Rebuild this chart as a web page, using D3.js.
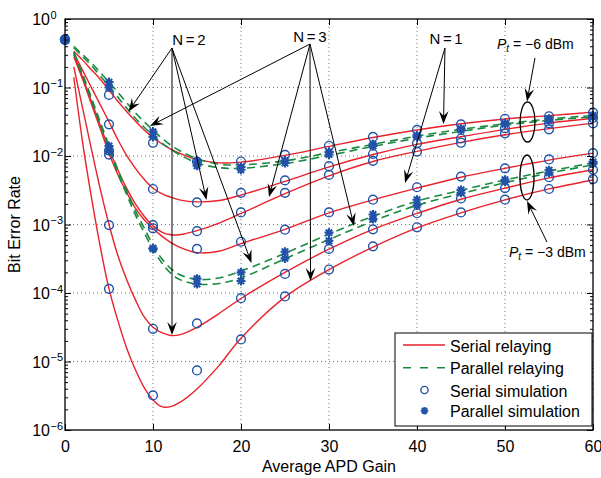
<!DOCTYPE html>
<html>
<head>
<meta charset="utf-8">
<script src="https://cdn.jsdelivr.net/npm/d3@7"></script>
<style>
  html, body { margin: 0; padding: 0; background: #fff; }
  svg { display: block; font-family: "Liberation Sans", Arial, Helvetica, sans-serif; }
</style>
</head>
<body>
<svg id="chart" width="601" height="478"></svg>
<script>
// ---- analytical curves (BER vs average APD gain) ----
const gainTheory = [1, 2, 3, 4, 5, 6, 7, 8, 9, 10, 11, 12, 13, 15, 17.5, 20, 25, 30, 35, 40, 45, 50, 55, 60];

// serial relaying, Pt = -6 dBm
const serialM6N1 = [0.339, 0.251, 0.182, 0.132, 0.0912, 0.0631, 0.0447, 0.0324, 0.0240, 0.0186, 0.0151, 0.0126, 0.0110, 0.00891, 0.00794, 0.00813, 0.0102, 0.0138, 0.0186, 0.0240, 0.0295, 0.0347, 0.0389, 0.0437];
const serialM6N2 = [0.316, 0.178, 0.100, 0.0562, 0.0316, 0.0174, 0.0102, 0.00661, 0.00457, 0.00339, 0.00282, 0.00251, 0.00229, 0.00214, 0.00224, 0.00269, 0.00427, 0.00692, 0.0105, 0.0148, 0.0191, 0.0245, 0.0302, 0.0355];
const serialM6N3 = [0.302, 0.141, 0.0631, 0.0282, 0.0126, 0.00631, 0.00339, 0.00200, 0.00132, 0.000955, 0.000776, 0.000708, 0.000708, 0.000813, 0.00105, 0.00145, 0.00282, 0.00513, 0.00832, 0.0117, 0.0158, 0.0204, 0.0251, 0.0302];
// serial relaying, Pt = -3 dBm
const serialM3N1 = [0.282, 0.132, 0.0575, 0.0251, 0.0110, 0.00537, 0.00295, 0.00174, 0.00117, 0.000871, 0.000676, 0.000550, 0.000468, 0.000389, 0.000407, 0.000525, 0.000851, 0.00148, 0.00229, 0.00339, 0.00490, 0.00660, 0.00870, 0.0110];
const serialM3N2 = [0.200, 0.0501, 0.0126, 0.00331, 0.00100, 0.000355, 0.000158, 7.94e-5, 4.47e-5, 3.16e-5, 2.63e-5, 2.40e-5, 2.45e-5, 3.16e-5, 5.01e-5, 8.32e-5, 2.00e-4, 4.37e-4, 8.51e-4, 0.00145, 0.00234, 0.00339, 0.00479, 0.00631];
const serialM3N3 = [0.141, 0.0158, 0.00251, 0.000479, 0.000115, 3.98e-5, 1.58e-5, 7.59e-6, 4.17e-6, 2.75e-6, 2.19e-6, 2.19e-6, 2.51e-6, 3.98e-6, 8.71e-6, 2.19e-5, 8.71e-5, 2.19e-4, 4.68e-4, 8.91e-4, 0.00148, 0.00229, 0.00331, 0.00447];
// parallel relaying
const parallelM6N2 = [0.398, 0.302, 0.229, 0.166, 0.120, 0.0851, 0.0603, 0.0427, 0.0316, 0.0240, 0.0182, 0.0145, 0.0120, 0.00912, 0.00759, 0.00741, 0.00851, 0.0112, 0.0148, 0.0195, 0.0245, 0.0295, 0.0347, 0.0389];
const parallelM6N3 = [0.380, 0.282, 0.209, 0.148, 0.105, 0.0724, 0.0501, 0.0355, 0.0263, 0.0200, 0.0155, 0.0126, 0.0105, 0.00794, 0.00676, 0.00661, 0.00776, 0.0102, 0.0138, 0.0182, 0.0229, 0.0282, 0.0331, 0.0372];
const parallelM3N2 = [0.331, 0.158, 0.0708, 0.0316, 0.0141, 0.00631, 0.00316, 0.00158, 0.000891, 0.000501, 0.000316, 0.000229, 0.000186, 0.000158, 0.000166, 0.000209, 0.000380, 0.000724, 0.00132, 0.00219, 0.00316, 0.00447, 0.00603, 0.00794];
const parallelM3N3 = [0.316, 0.148, 0.0661, 0.0288, 0.0126, 0.00562, 0.00275, 0.00138, 0.000759, 0.000437, 0.000275, 0.000195, 0.000158, 0.000135, 0.000138, 0.000166, 0.000316, 0.000603, 0.00112, 0.00191, 0.00282, 0.00407, 0.00562, 0.00741];

// ---- Monte-Carlo simulation points ----
const gainSim = [0, 5, 10, 15, 20, 25, 30, 35, 40, 45, 50, 55, 60];
const simSerialM6N1 = [0.5, 0.078, 0.0156, 0.0083, 0.0083, 0.0104, 0.0141, 0.019, 0.024, 0.029, 0.035, 0.038, 0.043];
const simSerialM6N2 = [0.5, 0.029, 0.0033, 0.0021, 0.0029, 0.0044, 0.0071, 0.0107, 0.0153, 0.018, 0.0254, 0.030, 0.036];
const simSerialM6N3 = [0.5, 0.012, 0.00098, 0.0008, 0.0015, 0.0029, 0.0053, 0.0085, 0.0116, 0.0156, 0.0214, 0.0245, 0.030];
const simSerialM3N1 = [0.5, 0.0105, 0.00088, 0.00044, 0.00056, 0.00084, 0.0015, 0.0023, 0.0035, 0.005, 0.0066, 0.0089, 0.011];
const simSerialM3N2 = [0.5, 0.00098, 3.0e-5, 3.6e-5, 8.4e-5, 1.9e-4, 4.4e-4, 8.5e-4, 0.00146, 0.0024, 0.0034, 0.0049, 0.0063];
const simSerialM3N3 = [0.5, 1.15e-4, 3.2e-6, 7.4e-6, 2.1e-5, 8.9e-5, 2.2e-4, 4.8e-4, 9.1e-4, 0.0015, 0.0023, 0.0033, 0.0046];
const simParallelM6N2 = [0.5, 0.12, 0.0227, 0.0083, 0.0069, 0.0086, 0.0115, 0.0148, 0.020, 0.025, 0.030, 0.035, 0.039];
const simParallelM6N3 = [0.5, 0.10, 0.019, 0.0072, 0.0063, 0.0079, 0.0105, 0.014, 0.019, 0.024, 0.029, 0.033, 0.037];
const simParallelM3N2 = [0.5, 0.014, 0.00045, 0.000162, 0.0002, 0.0004, 0.00076, 0.0014, 0.0023, 0.0032, 0.0045, 0.0062, 0.0082];
const simParallelM3N3 = [0.5, 0.012, 0.00044, 0.000135, 0.00015, 0.00032, 0.00058, 0.0012, 0.0019, 0.0029, 0.0042, 0.0057, 0.0077];

// ---- axes ----
const xTicks = [0, 10, 20, 30, 40, 50, 60];
const yTickExponents = [0, -1, -2, -3, -4, -5, -6];
const xTitle = "Average APD Gain";
const yTitle = "Bit Error Rate";
const legendLabels = ["Serial relaying", "Parallel relaying", "Serial simulation", "Parallel simulation"];

// ---- annotations (data coordinates: gain, BER) ----
const noteTexts = [
  { text: "N = 2", gain: 14.09, ber: 0.417 },
  { text: "N = 3", gain: 27.84, ber: 0.467 },
  { text: "N = 1", gain: 43.3, ber: 0.431 }
];
const noteArrows = [
  { from: [12.16, 0.377], to: [7.22, 0.0447] },
  { from: [12.16, 0.377], to: [16.08, 0.00228] },
  { from: [12.16, 0.377], to: [12.16, 2.44e-5] },
  { from: [12.16, 0.377], to: [21.19, 2.74e-4] },
  { from: [27.84, 0.431], to: [9.66, 0.0274] },
  { from: [27.84, 0.431], to: [23.18, 0.00252] },
  { from: [27.84, 0.431], to: [27.9, 1.5e-4] },
  { from: [27.84, 0.431], to: [32.84, 9.5e-4] },
  { from: [43.18, 0.377], to: [43.01, 0.0293] },
  { from: [43.18, 0.377], to: [38.64, 0.00404] },
  { from: [53.41, 0.27], to: [52.5, 0.0625] },
  { from: [54.77, 5.55e-4], to: [52.5, 0.0022] }
];
const powerEllipses = [
  { gain: 52.56, berTop: 0.0614, berBottom: 0.0160, halfGain: 0.85 },
  { gain: 52.5, berTop: 0.01035, berBottom: 0.00228, halfGain: 0.8 }
];
const powerTexts = [
  { value: "\u22126 dBm", gain: 49.09, ber: 0.365 },
  { value: "\u22123 dBm", gain: 50.45, ber: 3.36e-4 }
];

// ---- drawing ----
const RED = "#e8212b", GREEN = "#1a8a40", BLUE = "#2152a8";
const svg = d3.select("#chart");
const pLeft = 65, pRight = 593, pTop = 19, pBottom = 430;

const x = d3.scaleLinear().domain([0, 60]).range([pLeft, pRight]);
const y = d3.scaleLog().domain([1e-6, 1]).range([pBottom, pTop]);

const decades = yTickExponents.map(e => Math.pow(10, e));
const minorVals = [];
for (let e = -6; e < 0; e++) for (let m = 2; m <= 9; m++) minorVals.push(m * Math.pow(10, e));

// dotted grid
const grid = svg.append("g").attr("stroke", "#777").attr("stroke-width", 1).attr("stroke-dasharray", "1,3");
xTicks.filter(t => t > 0 && t < 60).forEach(t => {
  grid.append("line").attr("x1", x(t)).attr("x2", x(t)).attr("y1", pTop).attr("y2", pBottom);
});
decades.filter(v => v < 1 && v > 1e-6).forEach(v => {
  grid.append("line").attr("x1", pLeft).attr("x2", pRight).attr("y1", y(v)).attr("y2", y(v));
});

const line = d3.line()
  .x(d => x(d[0]))
  .y(d => y(d[1]))
  .curve(d3.curveCatmullRom.alpha(0.5));

const serialCurves = [serialM6N1, serialM6N2, serialM6N3, serialM3N1, serialM3N2, serialM3N3];
const parallelCurves = [parallelM6N2, parallelM6N3, parallelM3N2, parallelM3N3];

const curves = svg.append("g").attr("fill", "none");
serialCurves.forEach(vals => {
  curves.append("path")
    .attr("d", line(gainTheory.map((g, i) => [g, vals[i]])))
    .attr("stroke", RED).attr("stroke-width", 1.4);
});
parallelCurves.forEach(vals => {
  curves.append("path")
    .attr("d", line(gainTheory.map((g, i) => [g, vals[i]])))
    .attr("stroke", GREEN).attr("stroke-width", 1.6).attr("stroke-dasharray", "8,5");
});

// markers
const starPath = r => {
  const a = r * Math.SQRT1_2;
  return `M${-r},0H${r}M0,${-r}V${r}M${-a},${-a}L${a},${a}M${-a},${a}L${a},${-a}`;
};
const marks = svg.append("g");
[simSerialM6N1, simSerialM6N2, simSerialM6N3, simSerialM3N1, simSerialM3N2, simSerialM3N3].forEach(vals => {
  marks.selectAll(null).data(gainSim.map((g, i) => [g, vals[i]])).enter().append("circle")
    .attr("cx", d => x(d[0])).attr("cy", d => y(d[1])).attr("r", 4.4)
    .attr("fill", "none").attr("stroke", BLUE).attr("stroke-width", 1.4);
});
[simParallelM6N2, simParallelM6N3, simParallelM3N2, simParallelM3N3].forEach(vals => {
  marks.selectAll(null).data(gainSim.map((g, i) => [g, vals[i]])).enter().append("path")
    .attr("transform", d => `translate(${x(d[0])},${y(d[1])})`)
    .attr("d", starPath(4.5))
    .attr("fill", "none").attr("stroke", BLUE).attr("stroke-width", 2.1);
});

// axes: inward ticks on all four sides
const axisStyle = g => {
  g.select(".domain").remove();
  g.selectAll(".tick line").attr("stroke", "#000");
};
svg.append("g").attr("transform", `translate(0,${pBottom})`)
  .call(d3.axisBottom(x).tickValues(xTicks).tickSize(-6).tickPadding(10.5).tickFormat(d3.format("d")))
  .call(axisStyle)
  .call(g => g.selectAll("text").attr("font-size", 16).attr("fill", "#000").attr("font-family", "Liberation Sans, Arial, sans-serif"));
svg.append("g").attr("transform", `translate(0,${pTop})`)
  .call(d3.axisTop(x).tickValues(xTicks).tickSize(-6).tickFormat(() => ""))
  .call(axisStyle);
svg.append("g").attr("transform", `translate(${pLeft},0)`)
  .call(d3.axisLeft(y).tickValues(decades).tickSize(-6).tickFormat(() => ""))
  .call(axisStyle);
svg.append("g").attr("transform", `translate(${pLeft},0)`)
  .call(d3.axisLeft(y).tickValues(minorVals).tickSize(-3).tickFormat(() => ""))
  .call(axisStyle);
svg.append("g").attr("transform", `translate(${pRight},0)`)
  .call(d3.axisRight(y).tickValues(decades).tickSize(-6).tickFormat(() => ""))
  .call(axisStyle);
svg.append("g").attr("transform", `translate(${pRight},0)`)
  .call(d3.axisRight(y).tickValues(minorVals).tickSize(-3).tickFormat(() => ""))
  .call(axisStyle);

// y tick labels as powers of ten
const yLab = svg.append("g").attr("fill", "#000");
yTickExponents.forEach(e => {
  const ty = y(Math.pow(10, e));
  yLab.append("text").attr("x", 50).attr("y", ty + 6).attr("text-anchor", "end")
    .attr("font-size", 16).text("10");
  yLab.append("text").attr("x", 50.5).attr("y", ty - 0.5).attr("text-anchor", "start")
    .attr("font-size", 11).text(e === 0 ? "0" : "\u2212" + Math.abs(e));
});

// frame
svg.append("rect").attr("x", pLeft).attr("y", pTop).attr("width", pRight - pLeft).attr("height", pBottom - pTop)
  .attr("fill", "none").attr("stroke", "#000").attr("stroke-width", 1.3);

// axis titles
svg.append("text").attr("x", (pLeft + pRight) / 2).attr("y", 471.5).attr("text-anchor", "middle")
  .attr("font-size", 16).text(xTitle);
svg.append("text").attr("transform", `translate(20,${(pTop + pBottom) / 2}) rotate(-90)`)
  .attr("text-anchor", "middle").attr("font-size", 16).text(yTitle);

// annotation arrows with notched heads
const ann = svg.append("g");
const drawArrow = (x1, y1, x2, y2) => {
  const ang = Math.atan2(y2 - y1, x2 - x1);
  const L = 13, Wd = 4.8, notch = 8;
  const ux = Math.cos(ang), uy = Math.sin(ang);
  const px = -uy, py = ux;
  const bx = x2 - ux * L, by = y2 - uy * L;
  const nx = x2 - ux * notch, ny = y2 - uy * notch;
  ann.append("line").attr("x1", x1).attr("y1", y1).attr("x2", nx).attr("y2", ny)
    .attr("stroke", "#000").attr("stroke-width", 1);
  ann.append("path")
    .attr("d", `M${x2},${y2}L${bx + px * Wd},${by + py * Wd}L${nx},${ny}L${bx - px * Wd},${by - py * Wd}Z`)
    .attr("fill", "#000");
};
noteArrows.forEach(a => drawArrow(x(a.from[0]), y(a.from[1]), x(a.to[0]), y(a.to[1])));

noteTexts.forEach(t => {
  ann.append("text").attr("x", x(t.gain)).attr("y", y(t.ber)).attr("text-anchor", "middle")
    .attr("font-size", 15).attr("word-spacing", "-1.5px").text(t.text);
});

powerEllipses.forEach(e => {
  const cy = (y(e.berTop) + y(e.berBottom)) / 2;
  ann.append("ellipse").attr("cx", x(e.gain)).attr("cy", cy)
    .attr("rx", x(e.gain + e.halfGain) - x(e.gain)).attr("ry", (y(e.berBottom) - y(e.berTop)) / 2)
    .attr("fill", "none").attr("stroke", "#000").attr("stroke-width", 1.3);
});

powerTexts.forEach(t => {
  const txt = ann.append("text").attr("x", x(t.gain)).attr("y", y(t.ber)).attr("font-size", 14);
  txt.append("tspan").attr("font-style", "italic").text("P");
  txt.append("tspan").attr("font-style", "italic").attr("font-size", 10).attr("dy", 3).text("t");
  txt.append("tspan").attr("dy", -3).text(" = " + t.value);
});

// legend
const lg = svg.append("g");
const lgX = 395, lgY = 333, lgW = 197, lgH = 93;
lg.append("rect").attr("x", lgX).attr("y", lgY).attr("width", lgW).attr("height", lgH)
  .attr("fill", "#fff").attr("stroke", "#000").attr("stroke-width", 1);
const rowY = [345, 367.7, 390, 410.7];
lg.append("line").attr("x1", 403).attr("x2", 445).attr("y1", rowY[0]).attr("y2", rowY[0])
  .attr("stroke", RED).attr("stroke-width", 1.4);
lg.append("line").attr("x1", 403).attr("x2", 445).attr("y1", rowY[1]).attr("y2", rowY[1])
  .attr("stroke", GREEN).attr("stroke-width", 1.6).attr("stroke-dasharray", "8,9");
lg.append("circle").attr("cx", 424.5).attr("cy", rowY[2]).attr("r", 3.6)
  .attr("fill", "none").attr("stroke", BLUE).attr("stroke-width", 1.4);
lg.append("path").attr("transform", `translate(424.5,${rowY[3]})`).attr("d", starPath(3.8))
  .attr("fill", "none").attr("stroke", BLUE).attr("stroke-width", 2);
legendLabels.forEach((s, i) => {
  lg.append("text").attr("x", 450).attr("y", rowY[i] + 6.5).attr("font-size", 16).text(s);
});
</script>
</body>
</html>
